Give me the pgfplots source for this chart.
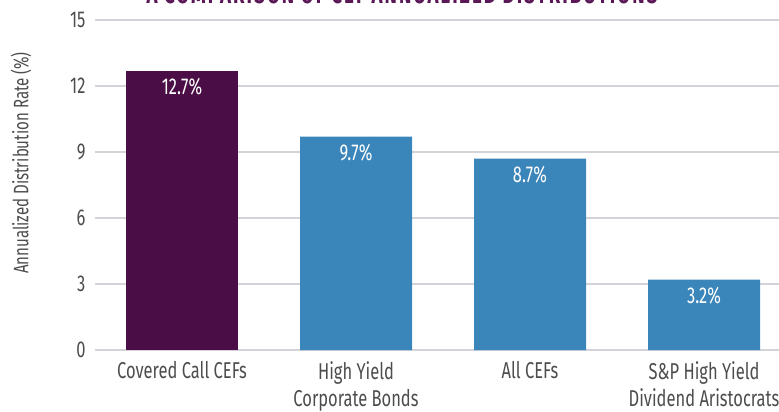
\documentclass[border=0pt]{standalone}
\usepackage{fontspec}
\setmainfont{Fira Sans}[FakeStretch=0.72]
\usepackage{pgfplots}
\pgfplotsset{compat=1.18}
\definecolor{cpurple}{HTML}{4A0D45}
\definecolor{cblue}{HTML}{3A85B9}
\definecolor{ctext}{HTML}{4D4D4D}
\definecolor{cgrid}{HTML}{D3D3D9}
\definecolor{ctitle}{HTML}{5B1856}
\begin{document}
\begin{tikzpicture}[x=1bp,y=1bp]
\begin{axis}[
  at={(0,0)}, anchor=south west,
  scale only axis, width=684bp, height=330bp,
  xmin=-0.5, xmax=3.431, ymin=0, ymax=15,
  ytick={0,3,...,15},
  xtick={0,1,2,3},
  xticklabels={Covered Call CEFs, {High Yield\\Corporate Bonds}, All CEFs, {S\&P High Yield\\Dividend Aristocrats}},
  axis line style={draw=none},
  major tick length=0pt,
  ymajorgrids, grid style={cgrid, line width=1.6bp},
  ybar, bar width=112bp,
  /pgf/number format/assume math mode=true,
  tick label style={text=ctext, font=\fontsize{23}{27}\selectfont},
  yticklabel style={anchor=east, xshift=-6bp},
  xticklabel style={align=center, anchor=north, yshift=-8bp},
  ylabel={Annualized Distribution Rate (\%)},
  ylabel style={at={(axis description cs:0,0.5)}, anchor=center, rotate=0, xshift=22bp, yshift=74bp, text=ctext, font=\fontsize{21}{25}\selectfont},
  nodes near coords={\pgfmathprintnumber[fixed,precision=1,fixed zerofill]{\pgfplotspointmeta}\%},
  every node near coord/.append style={anchor=north, yshift=-4bp, text=white, font=\fontsize{23}{27}\selectfont},
]
\addplot[fill=cpurple, draw=none, bar shift=0pt] coordinates {(0,12.7)};
\addplot[fill=cblue, draw=none, bar shift=0pt] coordinates {(1,9.7) (2,8.7) (3,3.2)};
\end{axis}
\node[anchor=base, font=\fontsize{26}{30}\selectfont\bfseries\addfontfeatures{LetterSpace=8}, text=ctitle] at (307,347) {A COMPARISON OF CEF ANNUALIZED DISTRIBUTIONS};
\pgfresetboundingbox
\path[use as bounding box] (-95,-61) rectangle (684,350);
\end{tikzpicture}
\end{document}
